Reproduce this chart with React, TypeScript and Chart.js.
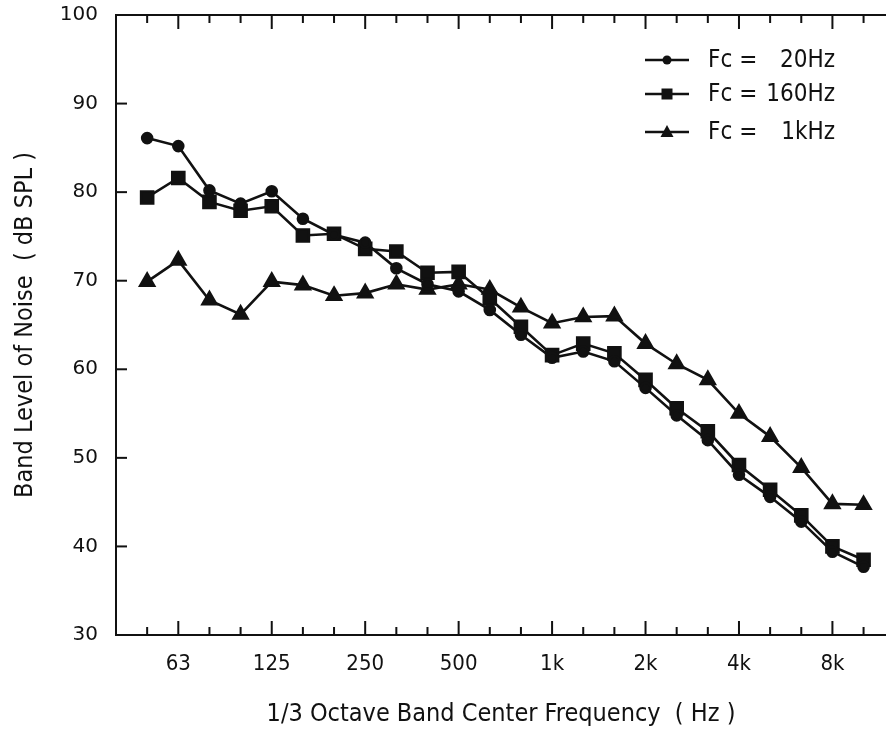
import React, { useEffect, useRef } from 'react';
import { Chart, registerables } from 'chart.js';

Chart.register(...registerables);

// 1/3 octave band centre frequencies (category order along the x axis)
const bandLabels = ['50', '63', '80', '100', '125', '160', '200', '250', '315', '400', '500', '630', '800', '1k', '1.25k', '1.6k', '2k', '2.5k', '3.15k', '4k', '5k', '6.3k', '8k', '10k'];
// bands that carry a printed tick label
const labeledBands = ['63', '125', '250', '500', '1k', '2k', '4k', '8k'];

// band levels (dB SPL)
const fc20Hz = [86.1, 85.2, 80.2, 78.7, 80.1, 77.0, 75.2, 74.3, 71.4, 69.6, 68.8, 66.7, 63.9, 61.3, 62.0, 60.9, 57.9, 54.8, 52.0, 48.1, 45.6, 42.8, 39.4, 37.7];
const fc160Hz = [79.4, 81.6, 78.9, 77.9, 78.4, 75.1, 75.3, 73.6, 73.3, 70.9, 71.0, 68.0, 64.8, 61.6, 62.9, 61.8, 58.8, 55.6, 53.0, 49.2, 46.4, 43.5, 40.0, 38.5];
const fc1kHz = [69.9, 72.3, 67.8, 66.2, 69.9, 69.5, 68.3, 68.6, 69.6, 69.0, 69.6, 69.0, 67.0, 65.2, 65.9, 66.0, 62.9, 60.6, 58.8, 55.0, 52.4, 48.9, 44.8, 44.7];

const seriesNames = ['Fc =  20Hz', 'Fc = 160Hz', 'Fc =  1kHz'];
const yTickValues = [30, 40, 50, 60, 70, 80, 90, 100];

const INK = '#111111';
const NARROW = "'DejaVu Sans Condensed', 'Liberation Sans Narrow', 'Roboto Condensed', 'DejaVu Sans', sans-serif";
const ROUND = "'DejaVu Sans', sans-serif";

const frameTicks = {
  id: 'frameTicks',
  beforeDatasetsDraw(chart: any) {
    const { ctx, chartArea, scales } = chart;
    const { left, right, top, bottom } = chartArea;
    const x = scales.x;
    const y = scales.y;
    ctx.save();
    ctx.strokeStyle = INK;
    ctx.lineWidth = 2;
    ctx.beginPath();
    ctx.moveTo(left - 1, top);
    ctx.lineTo(right, top);
    ctx.stroke();
    bandLabels.forEach((b, i) => {
      const px = x.getPixelForValue(i);
      const len = labeledBands.includes(b) ? 14 : 8;
      ctx.beginPath();
      ctx.moveTo(px, bottom);
      ctx.lineTo(px, bottom - len);
      ctx.moveTo(px, top);
      ctx.lineTo(px, top + len);
      ctx.stroke();
    });
    yTickValues.forEach((v) => {
      const py = y.getPixelForValue(v);
      ctx.beginPath();
      ctx.moveTo(left, py);
      ctx.lineTo(left + 11, py);
      ctx.stroke();
    });
    ctx.restore();
  },
};

function drawMarker(ctx: CanvasRenderingContext2D, style: string, cx: number, cy: number) {
  ctx.beginPath();
  if (style === 'circle') {
    ctx.arc(cx, cy, 4.5, 0, Math.PI * 2);
  } else if (style === 'rect') {
    ctx.rect(cx - 5.5, cy - 5.5, 11, 11);
  } else {
    ctx.moveTo(cx, cy - 7);
    ctx.lineTo(cx + 6.5, cy + 5);
    ctx.lineTo(cx - 6.5, cy + 5);
    ctx.closePath();
  }
  ctx.fill();
}

const lineLegend = {
  id: 'lineLegend',
  afterDraw(chart: any) {
    const { ctx } = chart;
    const rows = [60, 94, 132];
    ctx.save();
    chart.data.datasets.forEach((ds: any, i: number) => {
      const yy = rows[i];
      ctx.strokeStyle = INK;
      ctx.fillStyle = INK;
      ctx.lineWidth = 2.5;
      ctx.beginPath();
      ctx.moveTo(645, yy);
      ctx.lineTo(689, yy);
      ctx.stroke();
      drawMarker(ctx, ds.pointStyle, 667, yy);
      const [pre, post] = String(ds.label).split('=');
      ctx.font = `24px ${NARROW}`;
      ctx.textBaseline = 'middle';
      ctx.textAlign = 'left';
      ctx.fillText(pre.trim() + ' =', 708, yy + 1);
      ctx.textAlign = 'right';
      ctx.fillText(post.trim(), 835, yy + 1);
    });
    ctx.restore();
  },
};

export default function App() {
  const canvasRef = useRef<HTMLCanvasElement | null>(null);

  useEffect(() => {
    document.body.style.margin = '0';
    document.body.style.overflow = 'hidden';
    const canvas = canvasRef.current;
    if (!canvas) return;
    const toPoints = (arr: number[]) => arr.map((v, i) => ({ x: i, y: v }));
    const common = {
      borderColor: INK,
      backgroundColor: INK,
      pointBackgroundColor: INK,
      pointBorderColor: INK,
      borderWidth: 2.6,
      tension: 0,
      fill: false,
      clip: 12,
    };
    const chart = new Chart(canvas, {
      type: 'line',
      data: {
        datasets: [
          { ...common, label: seriesNames[0], data: toPoints(fc20Hz), pointStyle: 'circle', pointRadius: 5 },
          { ...common, label: seriesNames[1], data: toPoints(fc160Hz), pointStyle: 'rect', pointRadius: 8.5 },
          { ...common, label: seriesNames[2], data: toPoints(fc1kHz), pointStyle: 'triangle', pointRadius: 8 },
        ],
      },
      options: {
        animation: false,
        responsive: true,
        maintainAspectRatio: false,
        layout: { autoPadding: false, padding: { top: 15, right: 0, left: 0, bottom: 0 } },
        plugins: {
          legend: { display: false },
          tooltip: { enabled: false },
        },
        scales: {
          x: {
            type: 'linear',
            position: 'bottom',
            min: -1,
            max: 23.72,
            afterFit: (s: any) => { s.height = 94; s.paddingLeft = 0; s.paddingRight = 0; },
            grid: { display: true, drawOnChartArea: false, drawTicks: false },
            border: { display: true, color: INK, width: 2 },
            ticks: {
              stepSize: 1,
              autoSkip: false,
              maxTicksLimit: 40,
              maxRotation: 0,
              padding: 16,
              color: INK,
              font: { family: NARROW, size: 22 },
              callback: (v: any) => {
                const i = Number(v);
                if (!Number.isInteger(i) || i < 0 || i >= bandLabels.length) return '';
                return labeledBands.includes(bandLabels[i]) ? bandLabels[i] : '';
              },
            },
            title: {
              display: true,
              text: '1/3 Octave Band Center Frequency  ( Hz )',
              color: INK,
              font: { family: NARROW, size: 25 },
              padding: { top: 0, bottom: 0 },
            },
          },
          y: {
            min: 30,
            max: 100,
            afterFit: (s: any) => { s.width = 116; s.paddingTop = 0; s.paddingBottom = 0; },
            grid: { display: true, drawOnChartArea: false, drawTicks: false },
            border: { display: true, color: INK, width: 2 },
            ticks: {
              stepSize: 10,
              padding: 18,
              color: INK,
              font: { family: ROUND, size: 20 },
            },
            title: {
              display: true,
              text: 'Band Level of Noise  ( dB SPL )',
              color: INK,
              font: { family: NARROW, size: 25 },
              padding: { top: 10, bottom: 0 },
            },
          },
        },
      },
      plugins: [frameTicks, lineLegend],
    } as any);
    return () => chart.destroy();
  }, []);

  return (
    <div style={{ position: 'fixed', left: 0, top: 0, width: 886, height: 729, overflow: 'hidden' }}>
      <canvas ref={canvasRef} style={{ display: 'block' }} />
    </div>
  );
}
